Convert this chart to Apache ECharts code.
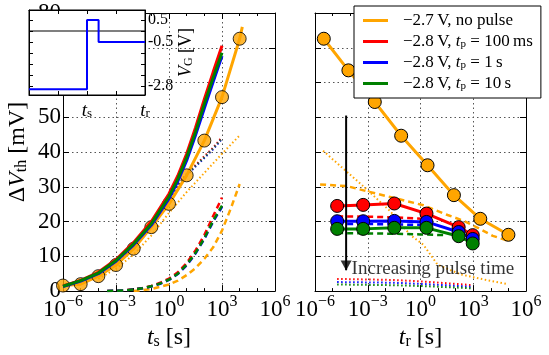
<!DOCTYPE html>
<html><head><meta charset="utf-8">
<script src="https://cdn.jsdelivr.net/npm/echarts@6/dist/echarts.min.js"></script>
<style>html,body{margin:0;padding:0;background:#fff}#c{width:549px;height:355px}</style>
</head><body><div id="c"></div><script>
// ---------- left panel: x = log10(t_s / s), y = dVth [mV] ----------
const tsMarkerExp = [-6,-5,-4,-3,-2,-1,0,1,2,3,4];
const noPulseMarkers = [1.6,2.0,4.3,7.5,12.2,18.4,25.1,33.3,43.3,55.8,72.6];
const noPulseFitExp = [-6,-5,-4,-3,-2,-1,0,1,2,3,4,4.15];
const noPulseFit = [1.6,2.0,4.3,7.5,12.2,18.4,25.1,33.3,43.3,55.8,72.6,76.0];
const pulseFitExp = [-6,-5,-4,-3,-2,-1,0,0.5,1,1.5,2,2.5,3];
const pulseFitRed   = [1.5,3.1,5.4,9.1,14.0,20.0,28.0,33.2,39.5,47.0,55.2,63.0,70.6];
const pulseFitBlue  = [1.3,2.9,5.0,8.6,13.3,19.0,26.6,31.6,37.6,44.8,52.6,60.2,67.6];
const pulseFitGreen = [1.4,3.0,5.2,8.8,13.6,19.4,27.2,32.3,38.5,45.8,53.8,61.4,68.6];
const dashPulseExp = [-3.5,-2.5,-1.5,-1,-0.5,0,0.5,1,1.5,2,2.5,3];
const dashRed   = [0,0.2,0.9,1.5,2.4,3.6,5.4,8.1,11.7,16.1,21.6,26.9];
const dashBlue  = [0,0.2,0.8,1.3,2.1,3.2,4.9,7.4,10.8,15.0,20.0,24.2];
const dashGreen = [0,0.2,0.8,1.4,2.2,3.3,5.0,7.6,11.0,15.2,20.3,24.6];
const dashOrangeExp = [-2,-1,0,0.5,1,1.5,2,2.5,3,3.5,4];
const dashOrange = [0,0.6,1.9,3.0,4.6,6.6,9.3,12.6,17.4,23.8,30.8];
const dotOrangeExp = [-4,-3,-2,-1,0,1,2,3,4];
const dotOrange = [3.5,6.5,10.5,16,22.5,28.5,34,39.5,44.8];
const dotPulseExp = [-3,-2,-1,0,0.5,1,2,2.5,3];
const dotRed   = [8.6,13.1,19.0,26.7,30.7,33.7,38.8,41.3,44.3];
const dotBlue  = [8.4,12.9,18.7,26.3,30.3,33.3,38.3,40.8,43.8];
const dotGreen = [8.5,13.0,18.8,26.5,30.5,33.5,38.5,41.0,44.0];

// ---------- right panel: x = log10(t_r / s) ----------
const trOrangeExp = [-5.5,-4.1,-2.6,-1.1,0.4,1.9,3.4,5.0];
const trOrange = [72.6,63.5,54.4,44.7,36.2,27.6,20.8,16.2];
const trPulseExp = [-4.74,-3.26,-1.49,0.34,2.17,2.97];
const trRed   = [24.5,24.8,25.2,22.3,18.4,16.1];
const trBlue  = [20.1,20.1,20.2,19.9,17.0,15.0];
const trGreen = [17.9,17.9,18.2,18.2,15.8,13.7];
const trDashOrangeExp = [-5.71,-4.17,-3.03,0.17,1.54,2.46,3.26,4.11,4.97];
const trDashOrange = [30.7,30.2,28.7,24.7,21.9,20.2,18.2,15.9,14.5];
const trDashRedExp = [-4.74,-3,-1.5,0.1];
const trDashRed = [21.5,21.4,21.2,20.8];
const trDashBlueExp = [-4.74,-3,-1.5,0.3];
const trDashBlue = [19.3,19.3,19.2,19.0];
const trDashGreenExp = [-4.74,-3,-1.5,0,1.5];
const trDashGreen = [16.7,16.6,16.5,16.3,16.1];
const trDotOrangeExp = [-5.54,-4.97,-3.89,-2.97,-1.71,-0.57,0.17,0.97,2.29,3.83,4.97];
const trDotOrange = [40.4,37.8,33.0,28.9,22.9,16.1,13.3,7.6,4.8,3.1,2.0];
const trDotExp = [-4.74,-1.5,0.34,2.97];
const trDotRed   = [3.5,3.2,2.7,1.7];
const trDotBlue  = [2.6,2.4,2.0,1.2];
const trDotGreen = [1.9,1.7,1.4,0.8];
const arrowX = [-4.23,-4.23];
const arrowY = [50.5,6.0];
const noteText = 'Increasing pulse time';

// ---------- inset: gate voltage waveform ----------
const vgStepX = [0,2,2,2.4,2.4,4];
const vgStepY = [-2.65,-2.65,0.5,0.5,-0.5,-0.5];
const vgZeroX = [0,4];
const vgZeroY = [0,0];
const vgTickVals = [0.5,-0.5,-2.5];
const vgTickText = ['0.5','-0.5','-2.8'];
const vgTimeVals = [2,4];
const vgTimeSub = ['s','r'];

// ---------- legend ----------
const legendKeys = ['o','r','b','g'];
const legendLabels = {
  o: '\u22122.7\u2009V, no pulse',
  r: '\u22122.8\u2009V, {i|t}{sub|p} = 100\u2009ms',
  b: '\u22122.8\u2009V, {i|t}{sub|p} = 1\u2009s',
  g: '\u22122.8\u2009V, {i|t}{sub|p} = 10\u2009s'
};

const F = 'Liberation Serif';
const ORANGE = '#FFA500', RED = '#FF0000', BLUE = '#0000FF', GREEN = '#008000';
const pts = (xs, ys) => xs.map((x, i) => [x, ys[i]]);

function ln(g, xs, ys, color, width, type, extra) {
  return Object.assign({
    type: 'line', xAxisIndex: g, yAxisIndex: g, data: pts(xs, ys),
    showSymbol: false, symbol: 'none', color: color, silent: true,
    lineStyle: { color: color, width: width, type: type }, z: 2
  }, extra || {});
}
function mk(name, g, xs, ys, color, z) {
  return {
    type: 'line', name: name, xAxisIndex: g, yAxisIndex: g, data: pts(xs, ys),
    symbol: 'circle', symbolSize: 13, showSymbol: true, color: color, silent: true,
    lineStyle: { color: color, width: 3 },
    itemStyle: { color: color, borderColor: '#000', borderWidth: 1 }, z: z
  };
}
function sc(name, g, xs, ys, color, z) {
  return {
    type: 'scatter', name: name, xAxisIndex: g, yAxisIndex: g, data: pts(xs, ys),
    symbol: 'circle', symbolSize: 13, color: color, silent: true,
    itemStyle: { color: color, borderColor: '#000', borderWidth: 1 }, z: z
  };
}

const tickFmt = v => '{b|10}{s|' + (v < 0 ? '\u2212' : '') + Math.abs(v) + '}';
const richTick = {
  b: { fontFamily: F, fontSize: 23, lineHeight: 31, color: '#000' },
  s: { fontFamily: F, fontSize: 16, lineHeight: 16, verticalAlign: 'top', color: '#000' }
};
const nameRich = {
  i: { fontFamily: F, fontSize: 24, fontStyle: 'italic', color: '#000' },
  n: { fontFamily: F, fontSize: 24, color: '#000' },
  sub: { fontFamily: F, fontSize: 16, verticalAlign: 'bottom', color: '#000' }
};
const gridLine = { show: true, lineStyle: { color: '#555', type: [1.5, 3], width: 1 } };

function xMain(grid, pos, labels, nameSub) {
  return {
    type: 'value', gridIndex: grid, position: pos, min: -6, max: 6, interval: 3,
    axisLine: { show: true, onZero: false, lineStyle: { color: '#000', width: 1 } },
    axisTick: { show: true, inside: true, length: 6, lineStyle: { color: '#000' } },
    minorTick: { show: true, splitNumber: 3, length: 3, lineStyle: { color: '#000' } },
    splitLine: labels ? gridLine : { show: false },
    axisLabel: labels ? { show: true, formatter: tickFmt, rich: richTick, margin: 3,
      showMinLabel: true, showMaxLabel: true, hideOverlap: false } : { show: false },
    name: labels ? '{i|t}{sub|' + nameSub + '}{n| [s]}' : '',
    nameLocation: 'middle', nameGap: 31,
    nameTextStyle: { rich: nameRich }
  };
}
function yMain(grid, pos, labels, withName, split) {
  return {
    type: 'value', gridIndex: grid, position: pos, min: 0, max: 80, interval: 10,
    axisLine: { show: true, onZero: false, lineStyle: { color: '#000', width: 1 } },
    axisTick: { show: true, inside: true, length: 6, lineStyle: { color: '#000' } },
    splitLine: split ? gridLine : { show: false },
    axisLabel: labels ? { show: true, fontFamily: F, fontSize: 23, color: '#000', margin: 2,
      showMaxLabel: true } : { show: false },
    name: withName ? '{n|\u0394}{i|V}{sub|th}{n| [mV]}' : '',
    nameLocation: 'middle', nameGap: 33, nameRotate: 90,
    nameTextStyle: { rich: nameRich }
  };
}

const option = {
  animation: false,
  backgroundColor: '#fff',
  grid: [
    { left: 63, top: 13, width: 212, height: 281, containLabel: false },
    { left: 315, top: 13, width: 211, height: 281, containLabel: false },
    { left: 29, top: 10, width: 116, height: 85, show: true, backgroundColor: '#fff',
      borderColor: '#000', borderWidth: 1, z: 10 }
  ],
  legend: {
    data: legendKeys, orient: 'vertical', left: 354, top: 6,
    padding: [6, 8, 6, 9], itemGap: 4, itemWidth: 25, itemHeight: 3, icon: 'rect',
    backgroundColor: '#fff', borderColor: '#000', borderWidth: 1, borderRadius: 0,
    selectedMode: false, z: 20,
    itemStyle: { borderWidth: 0 },
    formatter: n => legendLabels[n],
    textStyle: { fontFamily: F, fontSize: 17, lineHeight: 17, color: '#000', padding: [0, 0, 0, 10],
      rich: {
        i: { fontFamily: F, fontSize: 17, fontStyle: 'italic', color: '#000' },
        sub: { fontFamily: F, fontSize: 11, verticalAlign: 'bottom', color: '#000' }
      } }
  },
  xAxis: [
    xMain(0, 'bottom', true, 's'),
    xMain(1, 'bottom', true, 'r'),
    { type: 'value', gridIndex: 2, position: 'bottom', min: 0, max: 4, interval: 1, z: 11,
      axisLine: { show: true, onZero: false, lineStyle: { color: '#000' } },
      axisTick: { show: true, inside: true, length: 4, lineStyle: { color: '#000' } },
      splitLine: { show: false },
      axisLabel: { show: true, customValues: vgTimeVals, margin: 6,
        formatter: v => '{i|t}{sub|' + vgTimeSub[vgTimeVals.indexOf(v)] + '}',
        rich: { i: { fontFamily: F, fontSize: 19, fontStyle: 'italic', color: '#000' },
                sub: { fontFamily: F, fontSize: 13, verticalAlign: 'bottom', color: '#000' } } } },
    xMain(0, 'top', false),
    xMain(1, 'top', false),
    { type: 'value', gridIndex: 2, position: 'top', min: 0, max: 4, interval: 1, z: 11,
      axisLine: { show: true, onZero: false, lineStyle: { color: '#000' } },
      axisTick: { show: true, inside: true, length: 4, lineStyle: { color: '#000' } },
      splitLine: { show: false }, axisLabel: { show: false } }
  ],
  yAxis: [
    yMain(0, 'left', true, true, true),
    yMain(1, 'left', false, false, true),
    { type: 'value', gridIndex: 2, position: 'right', min: -2.91, max: 0.955, z: 11,
      axisLine: { show: true, onZero: false, lineStyle: { color: '#000' } },
      axisTick: { show: true, inside: true, length: 4, customValues: [0.5,0,-0.5,-1,-1.5,-2,-2.5],
        lineStyle: { color: '#000' } },
      splitLine: { show: false },
      axisLabel: { show: true, customValues: vgTickVals, margin: 3, fontFamily: F, fontSize: 16, color: '#000',
        formatter: v => vgTickText[vgTickVals.indexOf(v)] },
      name: '{i|V}{sub|G}{n| [V]}', nameLocation: 'middle', nameGap: 30, nameRotate: 90,
      nameTextStyle: { rich: {
        i: { fontFamily: F, fontSize: 18, fontStyle: 'italic', color: '#000' },
        n: { fontFamily: F, fontSize: 18, color: '#000' },
        sub: { fontFamily: F, fontSize: 12, verticalAlign: 'bottom', color: '#000' } } } },
    yMain(0, 'right', false, false, false),
    yMain(1, 'right', false, false, false),
    { type: 'value', gridIndex: 2, position: 'left', min: -2.91, max: 0.955, z: 11,
      axisLine: { show: true, onZero: false, lineStyle: { color: '#000' } },
      axisTick: { show: true, inside: true, length: 4, customValues: [0.5,0,-0.5,-1,-1.5,-2,-2.5],
        lineStyle: { color: '#000' } },
      splitLine: { show: false }, axisLabel: { show: false } }
  ],
  series: [
    // left panel
    ln(0, dotPulseExp, dotRed, RED, 2, [1.5, 2.5]),
    ln(0, dotPulseExp, dotBlue, BLUE, 2, [1.5, 2.5]),
    ln(0, dotPulseExp, dotGreen, '#2E5E3E', 2, [1.5, 2.5]),
    ln(0, dotOrangeExp, dotOrange, ORANGE, 2, [1.5, 2.5]),
    ln(0, dashOrangeExp, dashOrange, ORANGE, 2.5, [6, 4]),
    ln(0, dashPulseExp, dashRed, RED, 2.5, [6, 4]),
    ln(0, dashPulseExp, dashBlue, BLUE, 2.5, [6, 4]),
    ln(0, dashPulseExp, dashGreen, GREEN, 2.5, [6, 4]),
    ln(0, noPulseFitExp, noPulseFit, ORANGE, 3, 'solid', { z: 3 }),
    sc('', 0, tsMarkerExp, noPulseMarkers, ORANGE, 3),
    ln(0, pulseFitExp, pulseFitRed, RED, 3, 'solid', { z: 4 }),
    ln(0, pulseFitExp, pulseFitBlue, BLUE, 3, 'solid', { z: 4 }),
    ln(0, pulseFitExp, pulseFitGreen, GREEN, 3, 'solid', { z: 4 }),
    // right panel
    ln(1, trDotOrangeExp, trDotOrange, ORANGE, 2, [1.5, 2.5]),
    ln(1, trDotExp, trDotRed, RED, 2, [1.5, 2.5]),
    ln(1, trDotExp, trDotBlue, BLUE, 2, [1.5, 2.5]),
    ln(1, trDotExp, trDotGreen, GREEN, 2, [1.5, 2.5]),
    ln(1, trDashOrangeExp, trDashOrange, ORANGE, 2.5, [6, 4]),
    ln(1, trDashRedExp, trDashRed, RED, 2.5, [6, 4]),
    ln(1, trDashBlueExp, trDashBlue, BLUE, 2.5, [6, 4]),
    ln(1, trDashGreenExp, trDashGreen, GREEN, 2.5, [6, 4]),
    mk('o', 1, trOrangeExp, trOrange, ORANGE, 3),
    mk('r', 1, trPulseExp, trRed, RED, 3),
    mk('b', 1, trPulseExp, trBlue, BLUE, 3),
    mk('g', 1, trPulseExp, trGreen, GREEN, 3),
    {
      type: 'line', xAxisIndex: 1, yAxisIndex: 1, data: pts(arrowX, arrowY), silent: true, z: 5,
      symbol: 'none', color: '#000', lineStyle: { color: '#000', width: 2 }
    },
    {
      type: 'scatter', xAxisIndex: 1, yAxisIndex: 1, data: [[arrowX[1], arrowY[1] + 1.4]],
      symbol: 'triangle', symbolRotate: 180, symbolSize: [11, 10], silent: true, z: 5,
      itemStyle: { color: '#000' },
      label: { show: true, position: 'right', distance: 0, offset: [0, 4], formatter: noteText,
        fontFamily: F, fontSize: 19, color: '#000' }
    },
    // inset
    ln(2, vgZeroX, vgZeroY, '#000', 1.2, 'solid', { z: 12 }),
    ln(2, vgStepX, vgStepY, BLUE, 2, 'solid', { z: 12 })
  ]
};
const chart = echarts.init(document.getElementById('c'), null, { renderer: 'canvas' });
chart.setOption(option);
</script></body></html>
